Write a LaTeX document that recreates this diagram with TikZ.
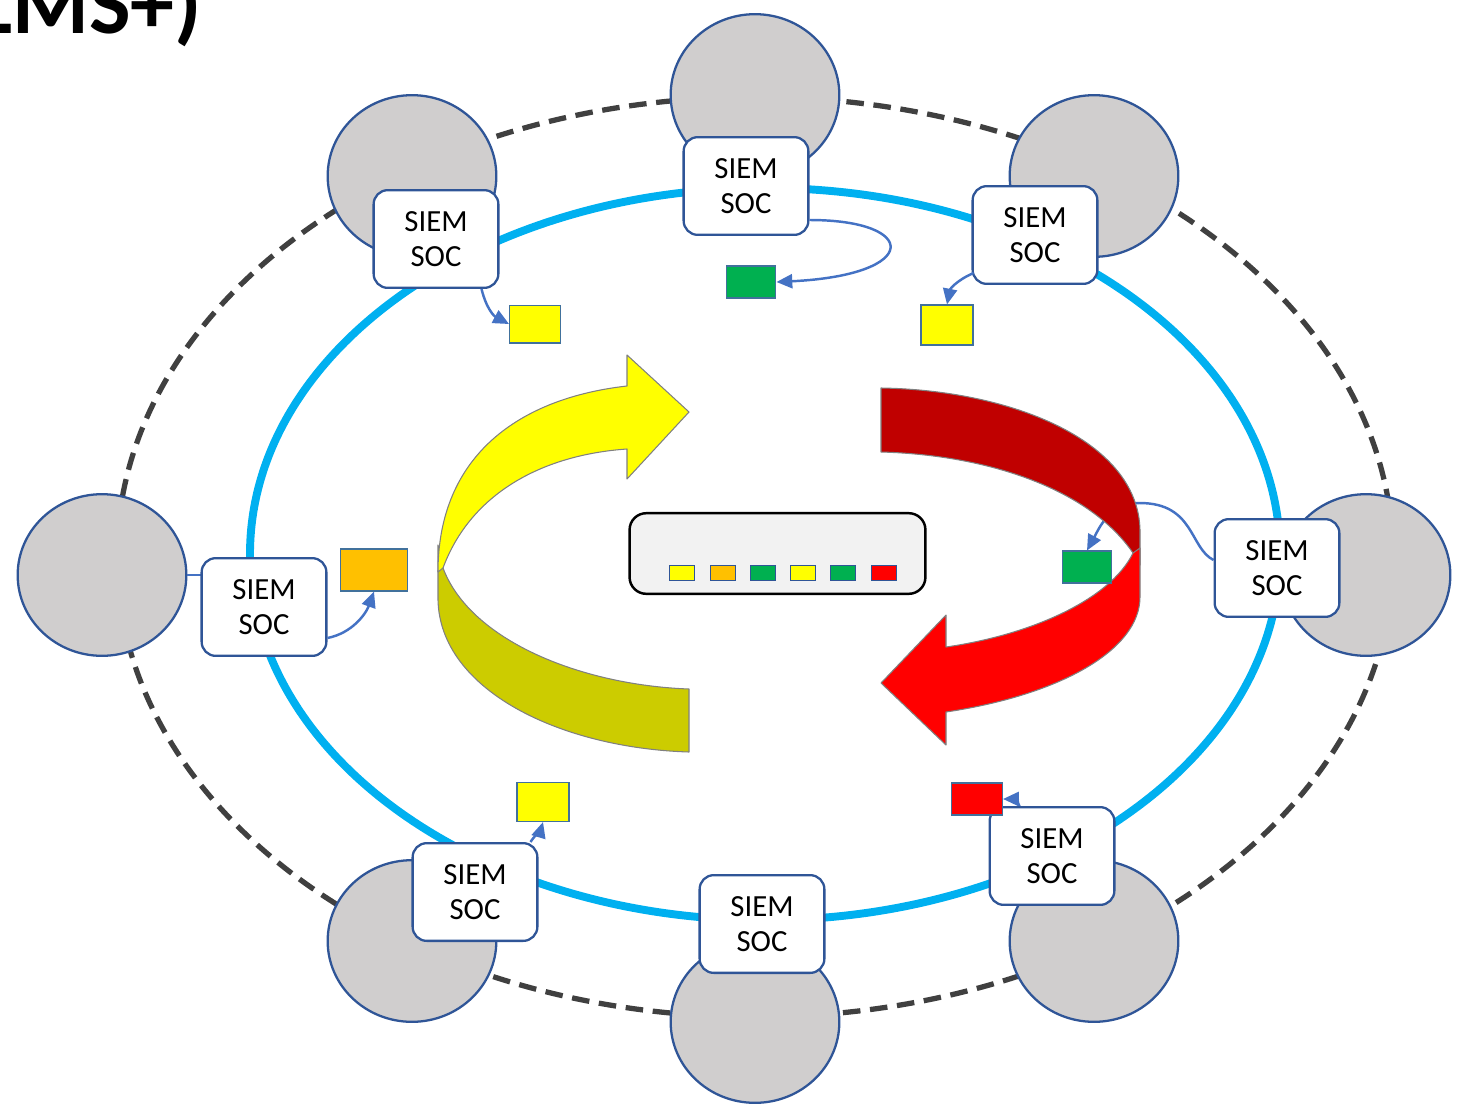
\documentclass[tikz,border=0pt]{standalone}
\usepackage{fontspec}
\setmainfont{Carlito}
\usetikzlibrary{arrows.meta,calc,shapes.geometric}
\definecolor{ringcyan}{HTML}{00B0F0}
\definecolor{ringdash}{HTML}{404040}
\definecolor{hostgray}{HTML}{D0CECE}
\definecolor{hostblue}{HTML}{2F5597}
\definecolor{linkblue}{HTML}{4472C4}
\definecolor{flagedge}{HTML}{41719C}
\definecolor{flagyellow}{HTML}{FFFF00}
\definecolor{flagorange}{HTML}{FFC000}
\definecolor{flaggreen}{HTML}{00B050}
\definecolor{flagred}{HTML}{FF0000}
\definecolor{ribbonedge}{HTML}{808080}
\definecolor{yellowback}{HTML}{CCCC00}
\definecolor{redback}{HTML}{C00000}
\definecolor{panelgray}{HTML}{F2F2F2}

\begin{document}
\begin{tikzpicture}[x=0.02cm,y=-0.02cm,
 host/.style={ellipse,draw=hostblue,fill=hostgray,line width=1.3pt,minimum width=96pt,minimum height=92pt,inner sep=0pt},
 siem/.style={draw=hostblue,fill=white,line width=1.3pt,rounded corners=8pt,minimum width=71pt,minimum height=55.6pt,align=center,inner sep=2pt,font=\fontsize{17.5}{19.5}\selectfont},
 flag/.style={draw=flagedge,line width=0.7pt,minimum width=29pt,minimum height=21pt,inner sep=0pt},
 mini/.style={draw=hostblue,line width=0.6pt,minimum width=14.7pt,minimum height=9pt,inner sep=0pt},
 link/.style={draw=linkblue,line width=1.4pt,-{Triangle[length=9pt,width=8pt]}},
 ribbon/.style={draw=ribbonedge,line width=0.6pt,line join=round}]
\useasboundingbox(0,0)rectangle(1460,1109);
\clip(0,0)rectangle(1460,1109);
% rings
\draw[ringdash,line width=3pt,dash pattern=on 10pt off 5.5pt](755,557)ellipse[x radius=638,y radius=460];
\draw[ringcyan,line width=4.5pt](765,554)ellipse[x radius=515,y radius=366];
% hosts
\node[host](cT)at(755,95){};\node[host](cTL)at(412,176){};\node[host](cTR)at(1094,176){};
\node[host](cL)at(102,575){};\node[host](cR)at(1366,575){};
\node[host](cBL)at(412,941){};\node[host](cB)at(755,1022){};\node[host](cBR)at(1094,941){};
% siem/soc box and flag positions
\path(746,186)coordinate(pT)(436,239)coordinate(pTL)(1035,235)coordinate(pTR)(264,607)coordinate(pL)
 (1277,568)coordinate(pR)(475,892)coordinate(pBL)(762,924)coordinate(pB)(1052,856)coordinate(pBR);
\path(535,324)coordinate(qTL)(751,282)coordinate(qT)(947,325)coordinate(qTR)(374,570)coordinate(qL)
 (1087,567)coordinate(qR)(543,802)coordinate(qBL)(977,799)coordinate(qBR);
\node[siem,draw=none,fill=none,text opacity=0](sBR)at(pBR){SIEM\\SOC};
\node[flag,draw=none,minimum width=28.9pt,minimum height=18.1pt](fBR0)at(qBR){};
\node[flag,draw=none,minimum width=28.3pt,minimum height=18.1pt](fR0)at(qR){};
\node[siem,draw=none,fill=none,text opacity=0](sR)at(pR){SIEM\\SOC};
% hidden links
\draw[link](sBR.center).. controls +(-30,-40) and +(12,0) ..(fBR0.east);
\draw[link]($(sR.west)+(0,-8)$).. controls +(-24,-12) and +(55,0) ..($(sR.west)+(-74,-65)$).. controls +(-30,0) and +(12,-22) ..(fR0.north);
\draw[linkblue,line width=1pt](cL.east)--(cL.east-|225,0);
% ribbons
\draw[ribbon,fill=yellowback](438,545)--(438,600).. controls (440,690) and (560,748) ..(689,752)--(689,689)
 .. controls (580,685) and (470,640) ..(443,568)--cycle;
\draw[ribbon,fill=flagyellow](438,572).. controls (438,455) and (520,398) ..(627,386)--(627,355)--(689,412)--(627,479)--(627,449)
 .. controls (540,455) and (470,495) ..(443,568)--cycle;
\draw[ribbon,fill=redback](881,388).. controls (1010,390) and (1138,440) ..(1140,530)--(1140,565)--(1133,553)
 .. controls (1090,490) and (990,455) ..(881,452)--cycle;
\draw[ribbon,fill=flagred](1140,548)--(1140,597).. controls (1140,650) and (1060,695) ..(946,712)--(946,745)--(881,683)--(946,615)--(946,647)
 .. controls (1030,635) and (1110,600) ..(1133,553)--cycle;
% boxes
\node[siem](sT)at(pT){SIEM\\SOC};\node[siem](sTL)at(pTL){SIEM\\SOC};\node[siem](sTR)at(pTR){SIEM\\SOC};
\node[siem](sL)at(pL){SIEM\\SOC};\node[siem]at(pR){SIEM\\SOC};
\node[siem](sBL)at(pBL){SIEM\\SOC};\node[siem](sB)at(pB){SIEM\\SOC};\node[siem]at(pBR){SIEM\\SOC};
\node[flag,fill=flagyellow,minimum width=28.9pt,minimum height=21.5pt](fTL)at(qTL){};
\node[flag,fill=flaggreen,minimum width=28.3pt,minimum height=18.1pt](fT)at(qT){};
\node[flag,fill=flagyellow,minimum width=29.5pt,minimum height=22.7pt](fTR)at(qTR){};
\node[flag,fill=flagorange,minimum width=38pt,minimum height=23.8pt](fL)at(qL){};
\node[flag,fill=flaggreen,minimum width=28.3pt,minimum height=18.1pt](fR)at(qR){};
\node[flag,fill=flagyellow,minimum width=29.5pt,minimum height=22.1pt](fBL)at(qBL){};
\node[flag,fill=flagred,minimum width=28.9pt,minimum height=18.1pt](fBR)at(qBR){};
% links
\draw[link]($(sTL.south east)+(-18,0)$).. controls +(5,20) and +(-15,-8) ..(fTL.west);
\draw[link]($(sT.east)+(0,34)$).. controls +(110,0) and +(145,-7) ..(fT.east);
\draw[link]($(sTR.south west)+(2,-12)$).. controls +(-18,8) and +(3,-15) ..(fTR.north);
\draw[link]($(sL.east)+(0,31)$).. controls +(25,-5) and +(-8,22) ..(fL.south);
\draw[link]($(sBL.north east)+(-8,0)$).. controls +(5,-8) and +(-3,10) ..(fBL.south);
% panel
\node[draw=black,fill=panelgray,line width=1.4pt,rounded corners=9.5pt,minimum width=168.4pt,minimum height=45.9pt](panel)at(777.5,553.5){};
\node[mini,fill=flagyellow](m1)at(682,573){};\node[mini,fill=flagorange](m2)at(723,573){};\node[mini,fill=flaggreen](m3)at(763,573){};
\node[mini,fill=flagyellow](m4)at(803,573){};\node[mini,fill=flaggreen](m5)at(843,573){};\node[mini,fill=flagred](m6)at(884,573){};
% title
\node[anchor=base east,inner sep=0pt,font=\bfseries\fontsize{50}{60}\selectfont](title)at(202,33){LMS+)};
\end{tikzpicture}
\end{document}
